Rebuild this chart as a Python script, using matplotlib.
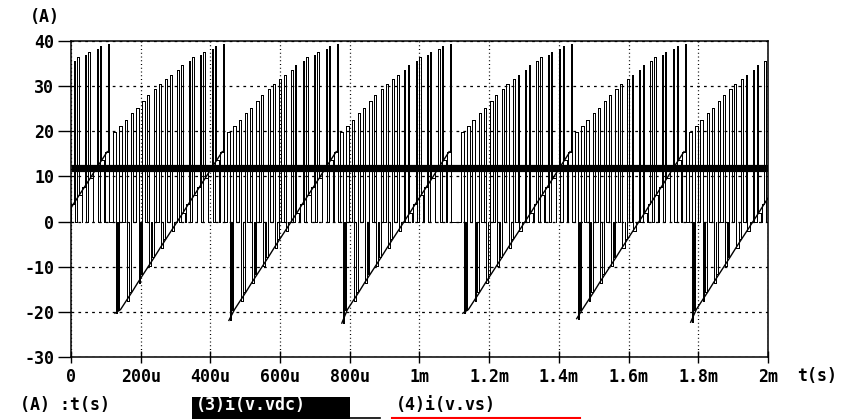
import matplotlib
matplotlib.use("Agg")
import matplotlib.pyplot as plt
from matplotlib.patches import Rectangle
from matplotlib.lines import Line2D

# start of each 60-degree segment (ms); first one is before t=0
cycle_start_ms = [-0.212, 0.118, 0.445, 0.769, 1.116, 1.443, 1.770]
# depth of the first negative spike in each segment (A)
first_neg_A = [-22.0, -20.3, -21.9, -22.5, -20.3, -21.5, -22.3]

# half switching periods inside one segment: start offset (us) and the two levels (A)
half_off_us = [0, 16, 32, 49, 65, 81, 97, 113, 130, 146,
               162, 178, 194, 211, 227, 243, 259, 275, 292, 308]
half_len_us = 16.2
level_hi_A = [19.8, 21.1, 22.5, 24.0, 25.2, 26.6, 28.0, 29.3, 30.5, 31.5,
              32.5, 33.6, 34.6, 35.5, 36.4, 37.0, 37.6, 38.2, 38.8, 39.3]
level_lo_A = [-21.4, -19.5, -17.6, -15.6, -13.6, -11.7, -9.8, -7.9, -5.8, -3.9,
              -2.0, -0.1, 1.8, 3.9, 5.8, 7.7, 9.6, 11.6, 13.6, 15.5]
# time spent on each level (us)
hi_time_us = [8, 7.8, 7.5, 7.2, 7, 6.7, 6.4, 6.1, 5.8, 5.5,
              5.2, 4.9, 4.6, 4.3, 4, 3.7, 3.4, 3.1, 2.8, 2.5]
lo_time_us = [3.5, 3.7, 4, 4.3, 4.6, 5, 5.3, 5.6, 6, 6.3,
              6.6, 7, 7.4, 7.8, 8.2, 8.6, 9, 9.5, 10, 10.5]
mid_zero_us = 0.8

# the flat trace
flat_level_A = 11.9

x_ticks_ms = [0, 0.2, 0.4, 0.6, 0.8, 1.0, 1.2, 1.4, 1.6, 1.8, 2.0]
x_tick_labels = ["0", "200u", "400u", "600u", "800u", "1m", "1.2m", "1.4m", "1.6m", "1.8m", "2m"]
y_ticks = [-30, -20, -10, 0, 10, 20, 30, 40]
y_tick_labels = ["-30", "-20", "-10", "0", "10", "20", "30", "40"]
t_end_ms = 2.0

plt.rcParams["font.family"] = "DejaVu Sans Mono"
plt.rcParams["font.weight"] = "bold"
plt.rcParams["axes.unicode_minus"] = False

# centre-aligned switching: even halves go 0,hi,lo,0 and odd halves 0,lo,hi,0
t, cur = [], []
lo_env = []
for k, start in enumerate(cycle_start_ms):
    end = cycle_start_ms[k + 1] if k + 1 < len(cycle_start_ms) else t_end_ms
    env_t, env_i = [], []
    for j, off in enumerate(half_off_us):
        h0 = start + off / 1000
        if h0 >= end:
            break
        hi = level_hi_A[j]
        lo = first_neg_A[k] if j == 0 else level_lo_A[j]
        b, c = hi_time_us[j], lo_time_us[j]
        a = half_len_us - b - c - mid_zero_us
        if j % 2 == 0:
            edges = [a, a + b, a + b + c]
            vals = [0, hi, lo, 0]
        else:
            edges = [mid_zero_us, mid_zero_us + c, mid_zero_us + c + b]
            vals = [0, lo, hi, 0]
        for e, v0, v1 in zip(edges, vals[:-1], vals[1:]):
            te = h0 + e / 1000
            t += [te, te]
            cur += [v0, v1]
        env_t.append(h0 + half_len_us / 2000)
        env_i.append(lo)
    lo_env.append((env_t, env_i))
t.append(t_end_ms)
cur.append(0.0)

fig = plt.figure(figsize=(8.51, 4.19), dpi=100)
ax = fig.add_axes([71 / 851, 62 / 419, 697 / 851, 316 / 419])

ax.plot(t, cur, color="black", lw=0.72, antialiased=False, zorder=3)
for env_t, env_i in lo_env:
    ax.plot(env_t, env_i, color="black", lw=1.0, zorder=3)
ax.plot([0, t_end_ms], [flat_level_A, flat_level_A], color="black", lw=5.2,
        solid_capstyle="butt", zorder=4)

ax.set_xlim(0, t_end_ms)
ax.set_ylim(-30, 40)
ax.set_xticks(x_ticks_ms)
ax.set_xticklabels(x_tick_labels)
ax.set_yticks(y_ticks)
ax.set_yticklabels(y_tick_labels)
ax.tick_params(axis="y", direction="out", length=9.5, width=1, pad=2.5, labelsize=12)
ax.tick_params(axis="x", direction="inout", length=8, width=1, pad=4, labelsize=12)

ax.yaxis.grid(True, color="black", lw=0.9, linestyle=(0, (2.2, 3.3)))
ax.xaxis.grid(True, color="black", lw=0.9, linestyle=(0, (0.8, 2.2)))
ax.set_axisbelow(True)
for sp in ax.spines.values():
    sp.set_linewidth(1.1)
    sp.set_zorder(5)

fig.text(45 / 851, 1 - 17 / 419, "(A)", ha="center", va="center", fontsize=12)
fig.text(797 / 851, 1 - 376 / 419, "t(s)", ha="left", va="center", fontsize=12)

# legend strip along the bottom
fig.text(20 / 851, 1 - 405 / 419, "(A) :t(s)", ha="left", va="center", fontsize=12)
fig.patches.append(Rectangle((192 / 851, 0), 158 / 851, 22 / 419, transform=fig.transFigure,
                             facecolor="black", edgecolor="none"))
fig.text(196 / 851, 1 - 405 / 419, "(3)i(v.vdc)", ha="left", va="center", fontsize=12, color="white")
fig.lines.append(Line2D([350 / 851, 380 / 851], [1.5 / 419, 1.5 / 419], transform=fig.transFigure,
                        color="black", lw=1.2))
fig.text(396 / 851, 1 - 405 / 419, "(4)i(v.vs)", ha="left", va="center", fontsize=12)
fig.lines.append(Line2D([392 / 851, 580 / 851], [1.5 / 419, 1.5 / 419], transform=fig.transFigure,
                        color="red", lw=1.5))

fig.savefig("out.png", dpi=100)
